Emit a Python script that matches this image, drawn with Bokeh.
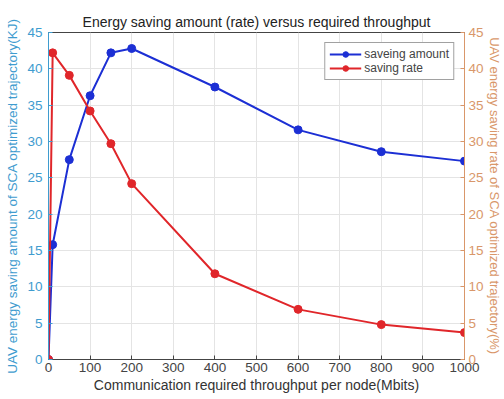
from bokeh.plotting import figure
from bokeh.models import Range1d, LinearAxis, Legend, LegendItem, FixedTicker
from bokeh.embed import file_html
from bokeh.resources import INLINE

throughput = [0, 10, 50, 100, 150, 200, 400, 600, 800, 1000]
saving_amount = [0, 15.8, 27.5, 36.3, 42.2, 42.8, 37.5, 31.6, 28.6, 27.3]
saving_rate = [0, 42.2, 39.1, 34.2, 29.7, 24.2, 11.8, 6.9, 4.8, 3.7]
x_ticks = [0, 100, 200, 300, 400, 500, 600, 700, 800, 900, 1000]
y_ticks = [0, 5, 10, 15, 20, 25, 30, 35, 40, 45]

FONT = "Liberation Sans"
LEFT_C = "#3f9ccf"
RIGHT_C = "#d9976a"
BLUE = "#1c2fd4"
RED = "#e0262a"

p = figure(frame_width=416, frame_height=327, output_backend="svg", toolbar_location=None,
           x_range=Range1d(0, 1000), y_range=Range1d(0, 45),
           min_border_left=48, min_border_right=24, min_border_top=32, min_border_bottom=30)
p.extra_y_ranges = {"rate": Range1d(0, 45)}

p.title.text = "Energy saving amount (rate) versus required throughput"
p.title.align = "center"
p.title.text_font = FONT
p.title.text_font_size = "14px"
p.title.text_font_style = "normal"
p.title.text_color = "#222222"
p.title.standoff = 6

p.outline_line_color = "#444444"
p.background_fill_color = "white"
p.border_fill_color = "white"

p.xgrid.ticker = FixedTicker(ticks=x_ticks)
p.ygrid.ticker = FixedTicker(ticks=y_ticks)
p.xgrid.grid_line_color = "#e4e4e4"
p.ygrid.grid_line_color = "#e4e4e4"

xa = p.xaxis[0]
xa.ticker = FixedTicker(ticks=x_ticks)
xa.axis_label = "Communication required throughput per node(Mbits)"
xa.axis_label_text_font = FONT
xa.axis_label_text_font_size = "14px"
xa.axis_label_text_font_style = "normal"
xa.axis_label_text_color = "#333333"
xa.axis_label_standoff = 2
xa.major_label_text_font = FONT
xa.major_label_text_font_size = "13.5px"
xa.major_label_text_color = "#444444"
xa.major_label_standoff = 3
xa.major_tick_in = 4
xa.major_tick_out = 0
xa.minor_tick_line_color = None
xa.axis_line_color = "#444444"
xa.major_tick_line_color = "#444444"

ya = p.yaxis[0]
ya.ticker = FixedTicker(ticks=y_ticks)
ya.axis_label = "UAV energy saving amount of SCA optimized trajectory(KJ)"
ya.axis_label_text_font = FONT
ya.axis_label_text_font_size = "13.5px"
ya.axis_label_text_font_style = "normal"
ya.axis_label_text_color = LEFT_C
ya.axis_label_standoff = 4
ya.major_label_text_font = FONT
ya.major_label_text_font_size = "13.5px"
ya.major_label_text_color = LEFT_C
ya.major_label_standoff = 6
ya.major_tick_in = 4
ya.major_tick_out = 0
ya.minor_tick_line_color = None
ya.axis_line_color = LEFT_C
ya.major_tick_line_color = LEFT_C

ra = LinearAxis(y_range_name="rate", ticker=FixedTicker(ticks=y_ticks))
ra.axis_label = "UAV energy saving rate of SCA optimized trajectory(%)"
ra.axis_label_text_font = FONT
ra.axis_label_text_font_size = "13px"
ra.axis_label_text_font_style = "normal"
ra.axis_label_text_color = RIGHT_C
ra.axis_label_standoff = 0
ra.major_label_text_font = FONT
ra.major_label_text_font_size = "13.5px"
ra.major_label_text_color = RIGHT_C
ra.major_label_standoff = 4
ra.major_tick_in = 4
ra.major_tick_out = 0
ra.minor_tick_line_color = None
ra.axis_line_color = RIGHT_C
ra.major_tick_line_color = RIGHT_C
p.add_layout(ra, "right")

l1 = p.line(throughput, saving_amount, line_color=BLUE, line_width=2)
c1 = p.scatter(throughput, saving_amount, size=8, fill_color=BLUE, line_color=BLUE)
l2 = p.line(throughput, saving_rate, line_color=RED, line_width=2, y_range_name="rate")
c2 = p.scatter(throughput, saving_rate, size=8, fill_color=RED, line_color=RED, y_range_name="rate")

legend = Legend(items=[LegendItem(label="saveing amount", renderers=[l1, c1]),
                       LegendItem(label="saving rate", renderers=[l2, c2])],
                location="top_right", margin=10, padding=4, spacing=0,
                glyph_width=32, glyph_height=14, label_standoff=3,
                label_text_font=FONT, label_text_font_size="12px",
                label_height=14,
                border_line_color="#444444", background_fill_alpha=1.0)
p.add_layout(legend)

open("out.html", "w").write(file_html(p, INLINE))
